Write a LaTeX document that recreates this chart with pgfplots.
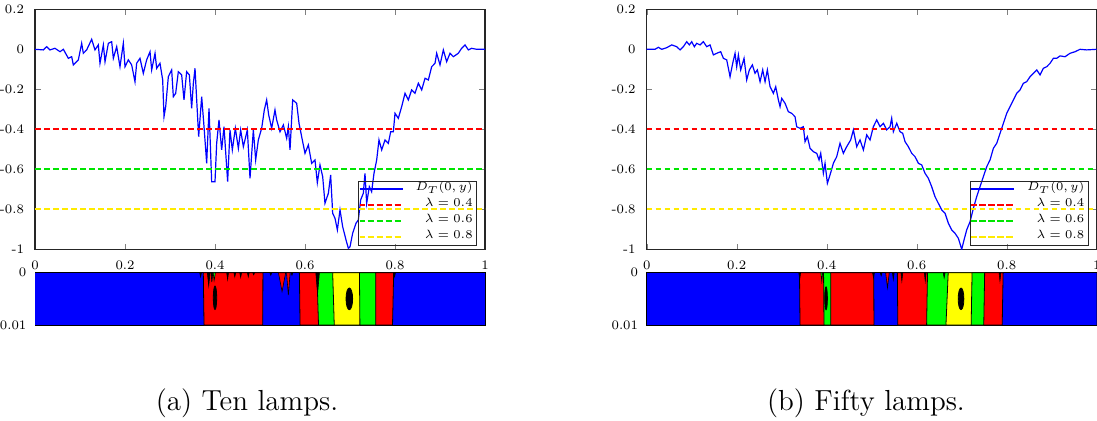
\documentclass[border=0pt]{standalone}
\usepackage{pgfplots}
\pgfplotsset{compat=1.18}

\definecolor{cblue}{rgb}{0,0,1}
\definecolor{cred}{rgb}{1,0,0}
\definecolor{cgreen}{rgb}{0,0.9,0}
\definecolor{cyel}{rgb}{1,0.92,0}
\definecolor{sgreen}{rgb}{0,1,0}
\definecolor{syel}{rgb}{1,1,0}

\pgfplotsset{
  mainax/.style={
    scale only axis, width=225pt, height=120pt,
    xmin=0, xmax=1, ymin=-1, ymax=0.2,
    xtick={0,0.2,0.4,0.6,0.8,1}, xticklabels={0,0.2,0.4,0.6,0.8,1},
    ytick={-1,-0.8,-0.6,-0.4,-0.2,0,0.2}, yticklabels={-1,-0.8,-0.6,-0.4,-0.2,0,0.2},
    tick align=inside, major tick length=2.8pt,
    axis line style={black!85, line width=0.6pt},
    ticklabel style={font=\fontsize{6.5}{7}\selectfont},
    yticklabel style={xshift=-2pt}, xticklabel style={yshift=-2pt},
    legend style={at={(1,0)}, anchor=south east, xshift=-4pt, yshift=2pt,
      draw=black!85, fill=none, inner sep=0pt,
      font=\fontsize{6.5}{7}\selectfont,
      nodes={inner sep=0pt, text height=5pt, text depth=3pt}},
    legend image code/.code={\path (0pt,0pt) -- (21.5pt,0pt);\draw[##1] (4pt,0pt) -- (21.5pt,0pt);},
  },
  stripax/.style={
    scale only axis, width=225pt, height=26.15pt,
    xmin=0, xmax=1, ymin=0, ymax=0.01, y dir=reverse,
    scaled y ticks=false,
    xtick=\empty, ytick={0,0.01}, yticklabels={0,0.01},
    major tick length=0pt, tick style={draw=none},
    axis line style={black, line width=0.5pt},
    ticklabel style={font=\fontsize{6.5}{7}\selectfont},
    yticklabel style={xshift=-0.8pt},
  },
}

\begin{document}
\begin{tikzpicture}
\useasboundingbox (0,0) rectangle (548.5pt,210pt);

% ---------------- (a) main ----------------
\begin{axis}[mainax, at={(17.5pt,85.35pt)}, anchor=south west]
\addplot[draw=cblue, line width=0.6pt] coordinates {
(0,0) (0.0185,-0.003) (0.0259,0.013) (0.0333,-0.003) (0.0444,0.005) (0.0556,-0.012)
(0.063,0) (0.0741,-0.045) (0.0815,-0.037) (0.0852,-0.078) (0.0963,-0.053) (0.1037,0.03)
(0.1074,-0.02) (0.1148,-0.003) (0.1259,0.05) (0.1333,-0.003) (0.1407,0.022) (0.1444,-0.07)
(0.1519,0.022) (0.1556,-0.062) (0.163,0.03) (0.1704,0.038) (0.1741,-0.045) (0.1815,0.013)
(0.1889,-0.087) (0.1963,0.03) (0.2,-0.087) (0.2074,-0.053) (0.2148,-0.078) (0.2222,-0.162)
(0.2259,-0.07) (0.2333,-0.045) (0.2407,-0.12) (0.2481,-0.053) (0.2556,-0.012) (0.2593,-0.103)
(0.2667,-0.02) (0.2704,-0.095) (0.2778,-0.07) (0.2837,-0.153) (0.2867,-0.337) (0.2904,-0.287)
(0.2963,-0.137) (0.3037,-0.103) (0.3074,-0.237) (0.3126,-0.22) (0.3185,-0.112) (0.3259,-0.128)
(0.3311,-0.253) (0.337,-0.112) (0.343,-0.128) (0.3481,-0.295) (0.3519,-0.17) (0.3556,-0.095)
(0.3593,-0.253) (0.3637,-0.437) (0.3704,-0.237) (0.3756,-0.387) (0.3815,-0.57) (0.3867,-0.295)
(0.3926,-0.662) (0.4,-0.662) (0.4037,-0.47) (0.4089,-0.353) (0.4148,-0.503) (0.42,-0.387)
(0.4281,-0.662) (0.4333,-0.403) (0.4385,-0.503) (0.4452,-0.395) (0.4519,-0.495) (0.457,-0.403)
(0.463,-0.487) (0.4719,-0.403) (0.4778,-0.645) (0.4852,-0.403) (0.4904,-0.553) (0.4963,-0.453)
(0.5037,-0.395) (0.5096,-0.303) (0.5148,-0.253) (0.5193,-0.328) (0.5259,-0.395) (0.5333,-0.303)
(0.537,-0.353) (0.5444,-0.412) (0.5519,-0.378) (0.5593,-0.445) (0.563,-0.387) (0.5667,-0.503)
(0.5726,-0.253) (0.5815,-0.27) (0.5867,-0.37) (0.5926,-0.437) (0.6,-0.52) (0.6074,-0.478)
(0.6148,-0.57) (0.6222,-0.553) (0.6274,-0.667) (0.6333,-0.578) (0.6393,-0.637) (0.6444,-0.77)
(0.6519,-0.72) (0.657,-0.628) (0.6615,-0.82) (0.6667,-0.845) (0.6719,-0.903) (0.6778,-0.803)
(0.6837,-0.887) (0.6911,-0.953) (0.6963,-0.995) (0.7,-0.987) (0.7059,-0.92) (0.7133,-0.87)
(0.7185,-0.853) (0.7237,-0.753) (0.7296,-0.72) (0.7333,-0.62) (0.737,-0.77) (0.743,-0.687)
(0.7481,-0.712) (0.7533,-0.62) (0.7593,-0.553) (0.7644,-0.453) (0.7704,-0.503) (0.7778,-0.453)
(0.7852,-0.47) (0.7904,-0.412) (0.7963,-0.412) (0.8,-0.32) (0.8074,-0.345) (0.8148,-0.287)
(0.8222,-0.22) (0.8296,-0.253) (0.837,-0.203) (0.8444,-0.22) (0.8519,-0.17) (0.8593,-0.203)
(0.8667,-0.145) (0.8741,-0.153) (0.8815,-0.087) (0.8889,-0.07) (0.8926,-0.02) (0.9,-0.078)
(0.9074,-0.003) (0.9148,-0.062) (0.9222,-0.02) (0.9296,-0.037) (0.9407,-0.02) (0.9481,0.005)
(0.9556,0.022) (0.963,-0.003) (0.9704,0.005) (0.9815,0) (1,0)
};
\addlegendentry{\makebox[36.5pt][r]{$D_T(0,y)$\hspace{2pt}}}
\addplot[color=cred, line width=1pt, dash pattern=on 2.8pt off 1.7pt] coordinates {(0,-0.4) (0.5,-0.4) (1,-0.4)};
\addlegendentry{\makebox[36.5pt][r]{$\lambda=0.4$\hspace{2pt}}}
\addplot[color=cgreen, line width=1pt, dash pattern=on 2.8pt off 1.7pt] coordinates {(0,-0.6) (0.5,-0.6) (1,-0.6)};
\addlegendentry{\makebox[36.5pt][r]{$\lambda=0.6$\hspace{2pt}}}
\addplot[color=cyel, line width=1pt, dash pattern=on 2.8pt off 1.7pt] coordinates {(0,-0.8) (0.5,-0.8) (1,-0.8)};
\addlegendentry{\makebox[36.5pt][r]{$\lambda=0.8$\hspace{2pt}}}
\end{axis}

% ---------------- (a) strip ----------------
\begin{axis}[stripax, at={(17.5pt,47.5pt)}, anchor=south west]
\addplot[fill=cblue, draw=none] coordinates {(0,0) (1,0) (1,0.01) (0,0.01)} -- cycle;
\addplot[fill=cred, draw=black, line width=0.4pt] coordinates {(0.374,0) (0.5065,0) (0.506,0.01) (0.3756,0.01)} -- cycle;
\addplot[fill=cred, draw=black, line width=0.4pt] coordinates {(0.5875,0) (0.797,0) (0.7945,0.01) (0.589,0.01)} -- cycle;
\addplot[fill=sgreen, draw=black, line width=0.4pt] coordinates {(0.6265,0) (0.757,0) (0.757,0.01) (0.63,0.01)} -- cycle;
\addplot[fill=syel, draw=black, line width=0.4pt] coordinates {(0.6615,0) (0.721,0) (0.722,0.01) (0.665,0.01)} -- cycle;
\addplot[fill=black, draw=black, line width=0.3pt] coordinates {(0.366,0) (0.368,0.0008) (0.370,0)} -- cycle;
\addplot[fill=black, draw=black, line width=0.3pt] coordinates {(0.383,0) (0.386,0.0025) (0.389,0)} -- cycle;
\addplot[fill=black, draw=black, line width=0.3pt] coordinates {(0.391,0) (0.393,0.0018) (0.395,0)} -- cycle;
\addplot[fill=sgreen, draw=black, line width=0.3pt] coordinates {(0.396,0) (0.398,0.0015) (0.401,0)} -- cycle;
\addplot[fill=black, draw=black, line width=0.3pt] coordinates {(0.426,0) (0.428,0.0013) (0.430,0)} -- cycle;
\addplot[fill=black, draw=black, line width=0.3pt] coordinates {(0.442,0) (0.444,0.0008) (0.446,0)} -- cycle;
\addplot[fill=black, draw=black, line width=0.3pt] coordinates {(0.455,0) (0.457,0.0009) (0.459,0)} -- cycle;
\addplot[fill=black, draw=black, line width=0.3pt] coordinates {(0.472,0) (0.474,0.0008) (0.476,0)} -- cycle;
\addplot[fill=black, draw=black, line width=0.3pt] coordinates {(0.484,0) (0.486,0.0004) (0.488,0)} -- cycle;
\addplot[fill=black, draw=black, line width=0.3pt] coordinates {(0.522,0) (0.524,0.0005) (0.526,0)} -- cycle;
\addplot[fill=cred, draw=black, line width=0.3pt] coordinates {(0.541,0) (0.549,0.0036) (0.557,0)} -- cycle;
\addplot[fill=cred, draw=black, line width=0.3pt] coordinates {(0.559,0) (0.563,0.0043) (0.567,0)} -- cycle;
\addplot[fill=black, draw=black, line width=0.3pt] coordinates {(0.569,0) (0.571,0.0005) (0.573,0)} -- cycle;
\addplot[fill=black, draw=black, line width=0.3pt] coordinates {(0.624,0) (0.628,0.004) (0.632,0)} -- cycle;
\addplot[fill=black, draw=black, line width=0.3pt] coordinates {(0.797,0) (0.799,0.0008) (0.801,0)} -- cycle;
\addplot[only marks, mark=*, mark size=0.85pt, mark options={fill=black, draw=black, yscale=6.9}] coordinates {(0.4,0.0048)};
\addplot[only marks, mark=*, mark size=1.65pt, mark options={fill=black, draw=black, yscale=3.3}] coordinates {(0.6985,0.005)};
\end{axis}

% ---------------- (b) main ----------------
\begin{axis}[mainax, at={(323.35pt,85.35pt)}, anchor=south west]
\addplot[draw=cblue, line width=0.6pt] coordinates {
(0,0) (0.0185,0) (0.0259,0.01) (0.0333,0) (0.0444,0.008) (0.0556,0.022) (0.0667,0.013)
(0.0741,-0.003) (0.0815,0.013) (0.0889,0.038) (0.0948,0.022) (0.1,0.038) (0.1059,0.013)
(0.1111,0.03) (0.1185,0.022) (0.1259,0.038) (0.1333,0.013) (0.1407,0.022) (0.1481,-0.028)
(0.1556,-0.02) (0.1644,-0.012) (0.1704,-0.045) (0.1778,-0.053) (0.1852,-0.137) (0.1911,-0.07)
(0.1963,-0.02) (0.2,-0.087) (0.2037,-0.028) (0.2089,-0.103) (0.2163,-0.045) (0.2222,-0.153)
(0.2281,-0.103) (0.2348,-0.078) (0.2407,-0.12) (0.2459,-0.103) (0.2519,-0.162) (0.2578,-0.103)
(0.263,-0.162) (0.2681,-0.103) (0.2741,-0.187) (0.2815,-0.22) (0.2867,-0.187) (0.2926,-0.253)
(0.2963,-0.287) (0.3,-0.245) (0.3074,-0.27) (0.3148,-0.312) (0.3222,-0.32) (0.3296,-0.337)
(0.3333,-0.387) (0.3407,-0.395) (0.3481,-0.387) (0.3519,-0.462) (0.357,-0.437) (0.363,-0.495)
(0.3704,-0.512) (0.3778,-0.52) (0.383,-0.553) (0.3867,-0.52) (0.3926,-0.62) (0.3963,-0.57)
(0.4015,-0.67) (0.4074,-0.628) (0.4148,-0.57) (0.4222,-0.537) (0.4296,-0.47) (0.437,-0.52)
(0.4444,-0.487) (0.4533,-0.453) (0.4593,-0.403) (0.4667,-0.487) (0.4741,-0.453) (0.4815,-0.503)
(0.4889,-0.428) (0.4963,-0.453) (0.5037,-0.387) (0.5111,-0.353) (0.5185,-0.387) (0.5259,-0.37)
(0.5333,-0.403) (0.5407,-0.387) (0.5444,-0.345) (0.5481,-0.412) (0.5556,-0.37) (0.563,-0.412)
(0.5689,-0.42) (0.5741,-0.462) (0.5815,-0.487) (0.5889,-0.52) (0.5963,-0.537) (0.6037,-0.57)
(0.6111,-0.578) (0.6185,-0.62) (0.6259,-0.645) (0.6333,-0.687) (0.6407,-0.737) (0.6481,-0.77)
(0.6556,-0.803) (0.663,-0.82) (0.6704,-0.87) (0.6778,-0.903) (0.6852,-0.92) (0.6926,-0.945)
(0.7,-1) (0.7052,-0.953) (0.7111,-0.903) (0.7185,-0.862) (0.7259,-0.795) (0.7333,-0.737)
(0.7407,-0.687) (0.7481,-0.637) (0.7556,-0.587) (0.763,-0.553) (0.7704,-0.495) (0.7778,-0.47)
(0.7852,-0.42) (0.7926,-0.37) (0.8,-0.32) (0.8074,-0.287) (0.8148,-0.253) (0.8222,-0.22)
(0.8296,-0.203) (0.837,-0.17) (0.8444,-0.162) (0.8519,-0.137) (0.8593,-0.12) (0.8667,-0.103)
(0.8741,-0.128) (0.8815,-0.095) (0.8889,-0.087) (0.8963,-0.07) (0.9037,-0.045) (0.9111,-0.045)
(0.9185,-0.033) (0.9296,-0.037) (0.9407,-0.02) (0.9519,-0.012) (0.963,0) (0.9778,-0.003) (1,0)
};
\addlegendentry{\makebox[36.5pt][r]{$D_T(0,y)$\hspace{2pt}}}
\addplot[color=cred, line width=1pt, dash pattern=on 2.8pt off 1.7pt] coordinates {(0,-0.4) (0.5,-0.4) (1,-0.4)};
\addlegendentry{\makebox[36.5pt][r]{$\lambda=0.4$\hspace{2pt}}}
\addplot[color=cgreen, line width=1pt, dash pattern=on 2.8pt off 1.7pt] coordinates {(0,-0.6) (0.5,-0.6) (1,-0.6)};
\addlegendentry{\makebox[36.5pt][r]{$\lambda=0.6$\hspace{2pt}}}
\addplot[color=cyel, line width=1pt, dash pattern=on 2.8pt off 1.7pt] coordinates {(0,-0.8) (0.5,-0.8) (1,-0.8)};
\addlegendentry{\makebox[36.5pt][r]{$\lambda=0.8$\hspace{2pt}}}
\end{axis}

% ---------------- (b) strip ----------------
\begin{axis}[stripax, at={(323.35pt,47.5pt)}, anchor=south west]
\addplot[fill=cblue, draw=none] coordinates {(0,0) (1,0) (1,0.01) (0,0.01)} -- cycle;
\addplot[fill=cred, draw=black, line width=0.4pt] coordinates {(0.3395,0) (0.5045,0) (0.505,0.01) (0.3407,0.01)} -- cycle;
\addplot[fill=sgreen, draw=black, line width=0.4pt] coordinates {(0.393,0) (0.409,0) (0.409,0.01) (0.394,0.01)} -- cycle;
\addplot[fill=cred, draw=black, line width=0.4pt] coordinates {(0.557,0) (0.792,0) (0.79,0.01) (0.558,0.01)} -- cycle;
\addplot[fill=sgreen, draw=black, line width=0.4pt] coordinates {(0.624,0) (0.751,0) (0.749,0.01) (0.622,0.01)} -- cycle;
\addplot[fill=syel, draw=black, line width=0.4pt] coordinates {(0.670,0) (0.723,0) (0.721,0.01) (0.665,0.01)} -- cycle;
\addplot[fill=black, draw=black, line width=0.3pt] coordinates {(0.338,0) (0.340,0.0013) (0.342,0)} -- cycle;
\addplot[fill=sgreen, draw=black, line width=0.3pt] coordinates {(0.387,0) (0.389,0.0016) (0.391,0)} -- cycle;
\addplot[fill=black, draw=black, line width=0.3pt] coordinates {(0.502,0) (0.504,0.001) (0.506,0)} -- cycle;
\addplot[fill=black, draw=black, line width=0.3pt] coordinates {(0.519,0) (0.521,0.0006) (0.523,0)} -- cycle;
\addplot[fill=cred, draw=black, line width=0.3pt] coordinates {(0.531,0) (0.535,0.0029) (0.539,0)} -- cycle;
\addplot[fill=black, draw=black, line width=0.3pt] coordinates {(0.546,0) (0.548,0.0013) (0.550,0)} -- cycle;
\addplot[fill=black, draw=black, line width=0.3pt] coordinates {(0.565,0) (0.567,0.0016) (0.569,0)} -- cycle;
\addplot[fill=black, draw=black, line width=0.3pt] coordinates {(0.617,0) (0.619,0.0016) (0.621,0)} -- cycle;
\addplot[fill=black, draw=black, line width=0.3pt] coordinates {(0.659,0) (0.661,0.001) (0.663,0)} -- cycle;
\addplot[fill=black, draw=black, line width=0.3pt] coordinates {(0.783,0) (0.785,0.0016) (0.787,0)} -- cycle;
\addplot[only marks, mark=*, mark size=0.68pt, mark options={fill=black, draw=black, yscale=8.4}] coordinates {(0.3985,0.0049)};
\addplot[only marks, mark=*, mark size=1.42pt, mark options={fill=black, draw=black, yscale=3.8}] coordinates {(0.6985,0.005)};
\end{axis}

% captions
\node[font=\fontsize{14.5}{17}\selectfont] at (123.5pt,8.5pt) {(a) Ten lamps.};
\node[font=\fontsize{14.5}{17}\selectfont] at (433pt,8.5pt) {(b) Fifty lamps.};
\end{tikzpicture}
\end{document}
